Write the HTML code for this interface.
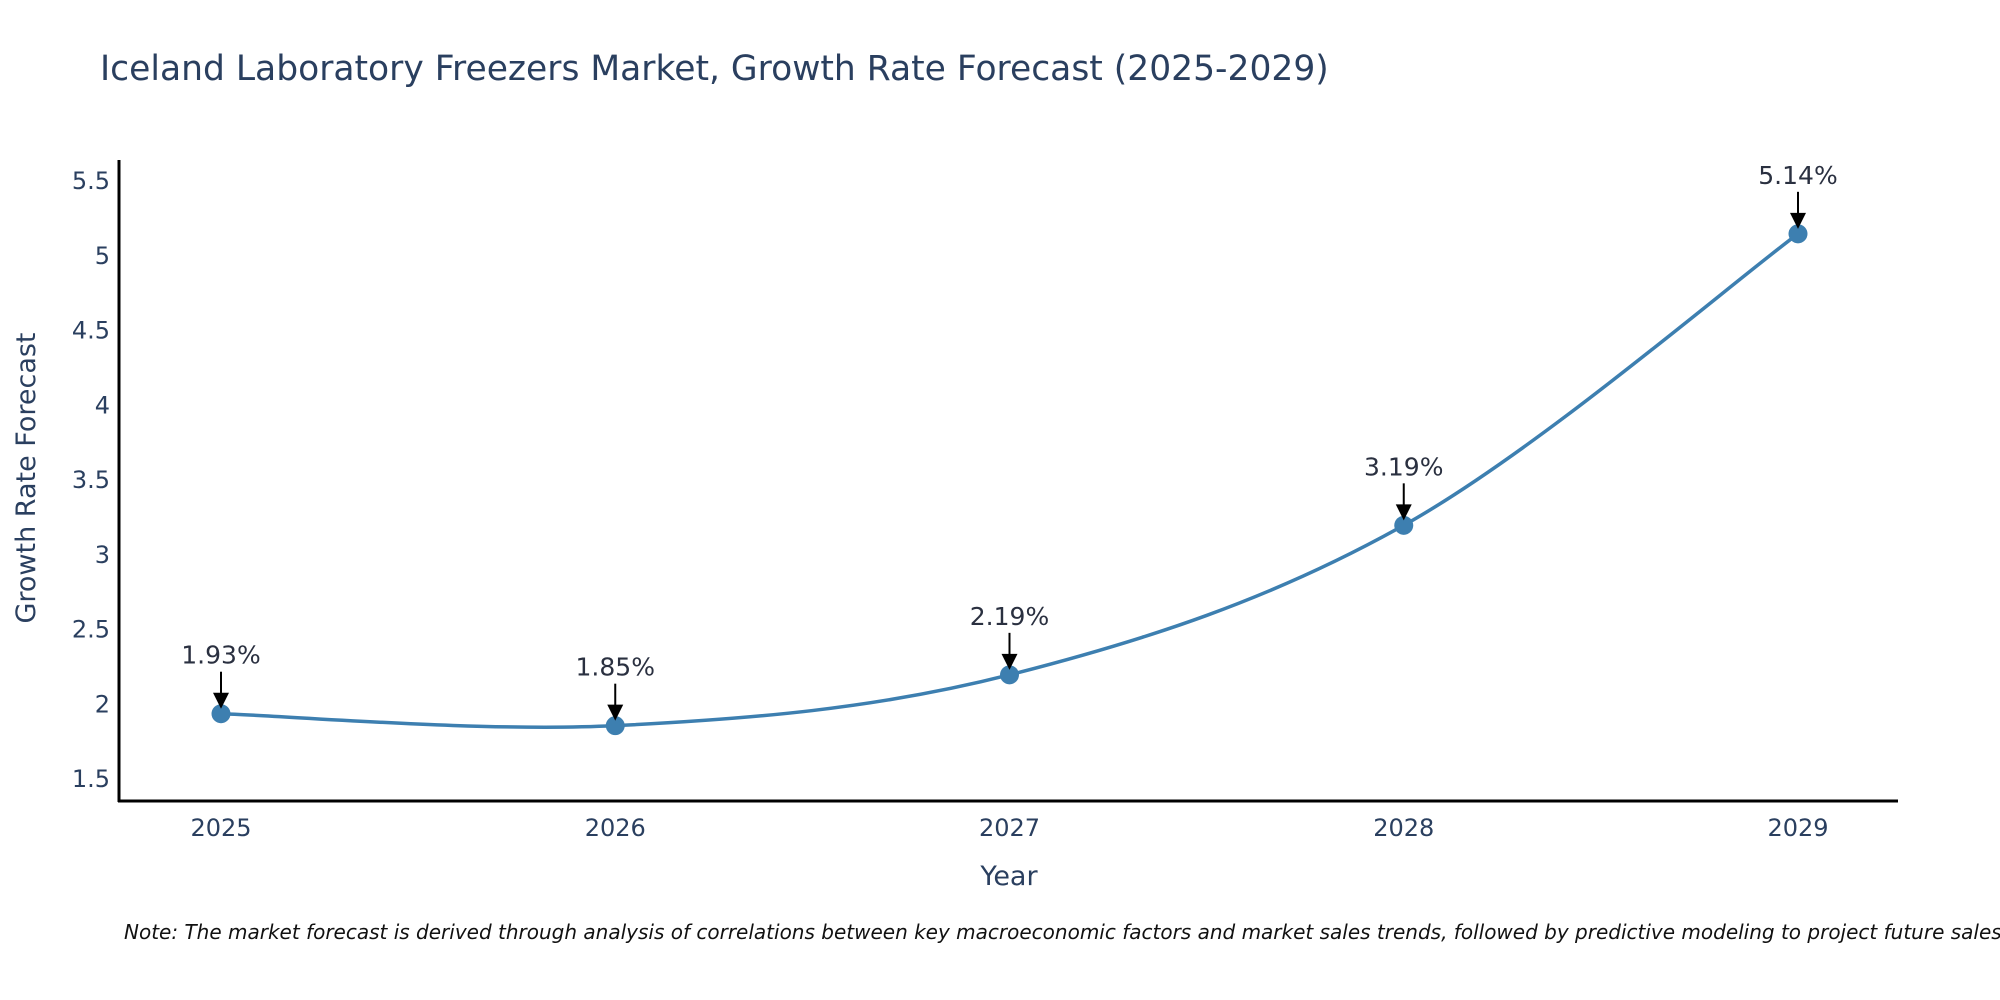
<!DOCTYPE html>
<html><head><meta charset="utf-8"><style>
body{margin:0;background:#fff;overflow:hidden;}
svg{display:block;font-family:"DejaVu Sans","Liberation Sans",sans-serif;}
</style></head><body>
<svg id="chart" width="2000" height="1000" viewBox="0 0 2000 1000">
<text x="100" y="80" font-size="34.5" fill="#2a3f5f">Iceland Laboratory Freezers Market, Growth Rate Forecast (2025-2029)</text>
<g id="yticks"></g><g id="xticks"></g>
<path id="line" fill="none" stroke="#3d7fb0" stroke-width="3.5"/>
<g id="marks"></g>
<line x1="119" y1="160" x2="119" y2="802" stroke="#000" stroke-width="3"/>
<line x1="118" y1="801" x2="1898" y2="801" stroke="#000" stroke-width="3"/>
<text x="1009" y="885" font-size="27" fill="#2a3f5f" text-anchor="middle">Year</text>
<text transform="translate(35,478) rotate(-90)" font-size="27" fill="#2a3f5f" text-anchor="middle">Growth Rate Forecast</text>
<text x="124" y="939" font-size="20" font-style="italic" fill="#111">Note: The market forecast is derived through analysis of correlations between key macroeconomic factors and market sales trends, followed by predictive modeling to project future sales.</text>
</svg>
<script>
const years=[2025,2026,2027,2028,2029];
const values=[1.93,1.85,2.19,3.19,5.14];
const labels=["1.93%","1.85%","2.19%","3.19%","5.14%"];
const yTicks=[1.5,2,2.5,3,3.5,4,4.5,5,5.5];
const NS="http://www.w3.org/2000/svg";
const X=v=>221+(v-2025)*394.25;
const Y=v=>778-(v-1.5)*149.5;
const yt=document.getElementById('yticks'),xt=document.getElementById('xticks'),mk=document.getElementById('marks');
function mkEl(t,a,p){const e=document.createElementNS(NS,t);for(const k in a)e.setAttribute(k,a[k]);p.appendChild(e);return e;}
yTicks.forEach(v=>{const t=mkEl('text',{x:110,y:Y(v)+9,'font-size':24,fill:'#2a3f5f','text-anchor':'end'},yt);


t.textContent=String(v);});
years.forEach(v=>{const t=mkEl('text',{x:X(v),y:836,'font-size':24,fill:'#2a3f5f','text-anchor':'middle'},xt);


t.textContent=String(v);});
const pts=years.map((y,i)=>[X(y),Y(values[i])]);
let d='M'+pts[0][0]+','+pts[0][1];const s=0.17;
for(let i=0;i<pts.length-1;i++){const p0=pts[i-1]||pts[i],p1=pts[i],p2=pts[i+1],p3=pts[i+2]||p2;
d+=` C${p1[0]+(p2[0]-p0[0])*s},${p1[1]+(p2[1]-p0[1])*s} ${p2[0]-(p3[0]-p1[0])*s},${p2[1]-(p3[1]-p1[1])*s} ${p2[0]},${p2[1]}`;}
document.getElementById('line').setAttribute('d',d);
pts.forEach((p,i)=>{
const c=mkEl('circle',{cx:p[0],cy:p[1],r:9.5,fill:'#3d7fb0'},mk);


const l=mkEl('line',{x1:p[0],y1:p[1]-42,x2:p[0],y2:p[1]-16,stroke:'#000','stroke-width':2},mk);


const h=mkEl('polygon',{points:`${p[0]-8},${p[1]-21} ${p[0]+8},${p[1]-21} ${p[0]},${p[1]-5}`,fill:'#000'},mk);


const t=mkEl('text',{x:p[0],y:p[1]-50,'font-size':25,fill:'#2a3040','text-anchor':'middle'},mk);


t.textContent=labels[i];});
</script>
</body></html>
